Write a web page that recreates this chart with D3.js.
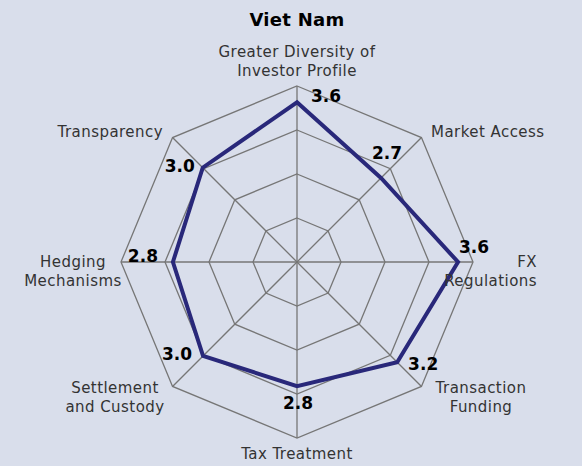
<!DOCTYPE html>
<html>
<head>
<meta charset="utf-8">
<script src="https://cdn.jsdelivr.net/npm/d3@7"></script>
<style>
  html, body { margin: 0; padding: 0; background: #d9deeb; }
  svg { display: block; font-family: "DejaVu Sans", Verdana, sans-serif; }
</style>
</head>
<body>
<div id="chart"></div>
<script>
// data
const title = "Viet Nam";
const categories = [
    ["Greater Diversity of", "Investor Profile"],
    ["Market Access"],
    ["FX", "Regulations"],
    ["Transaction", "Funding"],
    ["Tax Treatment"],
    ["Settlement", "and Custody"],
    ["Hedging", "Mechanisms"],
    ["Transparency"]
];
const values = [3.63, 2.7, 3.66, 3.22, 2.82, 3.02, 2.82, 3.03];
const valueLabels = ["3.6", "2.7", "3.6", "3.2", "2.8", "3.0", "2.8", "3.0"];
const gridLevels = [1, 2, 3, 4];

const width = 582, height = 466;
const cx = 297, cy = 262, radius = 176;

const svg = d3.select("#chart").append("svg")
    .attr("width", width)
    .attr("height", height);

svg.append("rect")
    .attr("width", width)
    .attr("height", height)
    .attr("fill", "#d9deeb");

const r = d3.scaleLinear().domain([0, 4]).range([0, radius]);
const angle = (i) => i * 2 * Math.PI / categories.length;
const px = (i, v) => cx + r(v) * Math.sin(angle(i));
const py = (i, v) => cy - r(v) * Math.cos(angle(i));

const g = svg.append("g");

// grid rings
gridLevels.forEach((lvl) => {
    g.append("polygon")
        .attr("points", categories.map((c, i) => px(i, lvl) + "," + py(i, lvl)).join(" "))
        .attr("fill", "none")
        .attr("stroke", "#767676")
        .attr("stroke-width", 1.3);
});

// spokes
categories.forEach((c, i) => {
    g.append("line")
        .attr("x1", cx).attr("y1", cy)
        .attr("x2", px(i, 4)).attr("y2", py(i, 4))
        .attr("stroke", "#767676")
        .attr("stroke-width", 1.3);
});

// data line
const line = d3.line().curve(d3.curveLinearClosed);
g.append("path")
    .attr("d", line(values.map((v, i) => [px(i, v), py(i, v)])))
    .attr("fill", "none")
    .attr("stroke", "#29287a")
    .attr("stroke-width", 4)
    .attr("stroke-linejoin", "miter");

// value labels
const labelOffset = [[29, -6], [6, -25], [16, -15], [26, 2], [1, 17], [-26, -2], [-30, -6], [-23, -2]];
values.forEach((v, i) => {
    g.append("text")
        .attr("x", px(i, v) + labelOffset[i][0])
        .attr("y", py(i, v) + labelOffset[i][1])
        .attr("dy", "0.36em")
        .attr("text-anchor", "middle")
        .attr("font-size", 17)
        .attr("font-weight", "bold")
        .attr("fill", "#000")
        .text(valueLabels[i]);
});

// axis labels
const catPos = [
    { x: 297, y: 57, anchor: "middle" },
    { x: 431, y: 137, anchor: "start" },
    { x: 537, y: 267, anchor: "end" },
    { x: 481, y: 393, anchor: "middle" },
    { x: 297, y: 459, anchor: "middle" },
    { x: 115, y: 393, anchor: "middle" },
    { x: 73, y: 267, anchor: "middle" },
    { x: 163, y: 137, anchor: "end" }
];
categories.forEach((lines, i) => {
    const t = g.append("text")
        .attr("x", catPos[i].x)
        .attr("y", catPos[i].y)
        .attr("text-anchor", catPos[i].anchor)
        .attr("font-size", 15)
        .attr("letter-spacing", 0.45)
        .attr("fill", "#333");
    lines.forEach((s, k) => {
        t.append("tspan")
            .attr("x", catPos[i].x)
            .attr("dy", k === 0 ? 0 : 19)
            .text(s);
    });
});

svg.append("text")
    .attr("x", cx)
    .attr("y", 26)
    .attr("text-anchor", "middle")
    .attr("font-size", 18)
    .attr("font-weight", "bold")
    .attr("letter-spacing", 0.3)
    .text(title);
</script>
</body>
</html>
